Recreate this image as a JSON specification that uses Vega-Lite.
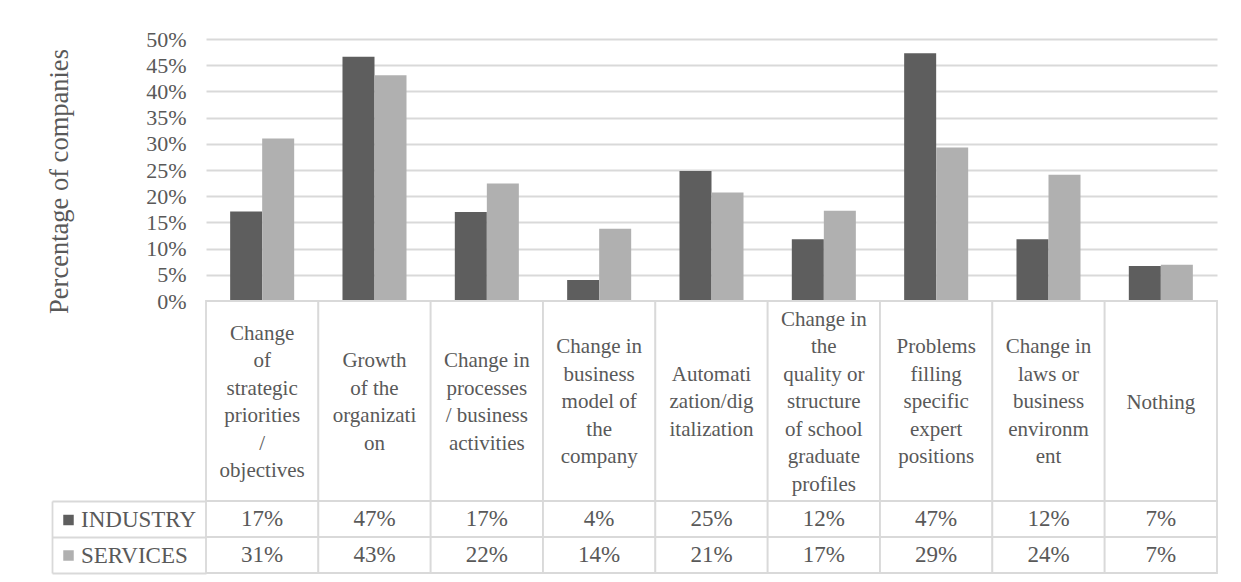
{
  "$schema": "https://vega.github.io/schema/vega-lite/v6.json",
  "padding": {"left": 46, "top": 28, "right": 23, "bottom": 9},
  "autosize": {"type": "pad"},
  "bounds": "flush",
  "spacing": 0,
  "background": "white",
  "config": {
    "font": "Liberation Serif",
    "view": {"stroke": null},
    "axis": {"labelColor": "#595959", "titleColor": "#595959", "titleFontWeight": "normal"},
    "legend": {"labelColor": "#595959"}
  },
  "datasets": {
    "rows": [
      {"idx": 1, "category": "Change\nof\nstrategic\npriorities\n/\nobjectives", "series": "INDUSTRY", "value": 0.171},
      {"idx": 1, "category": "Change\nof\nstrategic\npriorities\n/\nobjectives", "series": "SERVICES", "value": 0.310},
      {"idx": 2, "category": "Growth\nof the\norganizati\non", "series": "INDUSTRY", "value": 0.466},
      {"idx": 2, "category": "Growth\nof the\norganizati\non", "series": "SERVICES", "value": 0.431},
      {"idx": 3, "category": "Change in\nprocesses\n/ business\nactivities", "series": "INDUSTRY", "value": 0.170},
      {"idx": 3, "category": "Change in\nprocesses\n/ business\nactivities", "series": "SERVICES", "value": 0.224},
      {"idx": 4, "category": "Change in\nbusiness\nmodel of\nthe\ncompany", "series": "INDUSTRY", "value": 0.040},
      {"idx": 4, "category": "Change in\nbusiness\nmodel of\nthe\ncompany", "series": "SERVICES", "value": 0.138},
      {"idx": 5, "category": "Automati\nzation/dig\nitalization", "series": "INDUSTRY", "value": 0.248},
      {"idx": 5, "category": "Automati\nzation/dig\nitalization", "series": "SERVICES", "value": 0.207},
      {"idx": 6, "category": "Change in\nthe\nquality or\nstructure\nof school\ngraduate\nprofiles", "series": "INDUSTRY", "value": 0.118},
      {"idx": 6, "category": "Change in\nthe\nquality or\nstructure\nof school\ngraduate\nprofiles", "series": "SERVICES", "value": 0.172},
      {"idx": 7, "category": "Problems\nfilling\nspecific\nexpert\npositions", "series": "INDUSTRY", "value": 0.473},
      {"idx": 7, "category": "Problems\nfilling\nspecific\nexpert\npositions", "series": "SERVICES", "value": 0.293},
      {"idx": 8, "category": "Change in\nlaws or\nbusiness\nenvironm\nent", "series": "INDUSTRY", "value": 0.118},
      {"idx": 8, "category": "Change in\nlaws or\nbusiness\nenvironm\nent", "series": "SERVICES", "value": 0.241},
      {"idx": 9, "category": "Nothing", "series": "INDUSTRY", "value": 0.067},
      {"idx": 9, "category": "Nothing", "series": "SERVICES", "value": 0.069}
    ]
  },
  "vconcat": [
    {
      "width": 1011,
      "height": 262,
      "data": {"name": "rows"},
      "mark": {"type": "bar"},
      "encoding": {
        "x": {"field": "category", "type": "nominal", "sort": {"field": "idx", "op": "min"},
              "scale": {"paddingInner": 0.43, "paddingOuter": 0.215}, "axis": null},
        "xOffset": {"field": "series", "type": "nominal", "sort": ["INDUSTRY", "SERVICES"]},
        "y": {"field": "value", "type": "quantitative",
              "scale": {"domain": [0, 0.5], "nice": false},
              "axis": {"format": ".0%", "values": [0, 0.05, 0.1, 0.15, 0.2, 0.25, 0.3, 0.35, 0.4, 0.45, 0.5],
                       "grid": true, "gridColor": "#d9d9d9", "gridWidth": 1.8,
                       "domain": false, "ticks": false, "labelPadding": 20, "labelFontSize": 22,
                       "title": "Percentage of companies", "titleFontSize": 26.5, "titlePadding": 72, "titleY": 142}},
        "color": {"field": "series", "type": "nominal",
                  "scale": {"domain": ["INDUSTRY", "SERVICES"], "range": ["#5e5e5e", "#b0b0b0"]},
                  "legend": {"orient": "none", "legendX": -149, "legendY": 469.5, "title": null,
                             "symbolType": "square", "symbolSize": 110, "symbolStrokeWidth": 0,
                             "labelFontSize": 23, "labelOffset": 1, "rowPadding": 11.5, "padding": 0}}
      }
    },
    {
      "width": 1011,
      "height": 200,
      "data": {"name": "rows"},
      "transform": [
        {"filter": "datum.series == 'INDUSTRY'"},
        {"calculate": "(length(split(datum.category, '\\n')) - 1) / 2", "as": "shift"}
      ],
      "encoding": {
        "x": {"field": "category", "type": "nominal", "sort": {"field": "idx", "op": "min"},
              "scale": {"paddingInner": 0, "paddingOuter": 0}, "axis": null}
      },
      "layer": [
        {"mark": {"type": "rect", "fill": "white", "stroke": "#d9d9d9", "strokeWidth": 1.8}},
        {"mark": {"type": "text", "lineBreak": "\n", "lineHeight": 27.5, "fontSize": 21, "color": "#595959", "dy": 1.5},
         "encoding": {
           "y": {"field": "shift", "type": "quantitative",
                 "scale": {"domain": [-3.63636, 3.63636], "nice": false, "zero": false}, "axis": null},
           "text": {"field": "category"}}}
      ]
    },
    {
      "width": 1011,
      "height": 72,
      "data": {"name": "rows"},
      "encoding": {
        "x": {"field": "category", "type": "nominal", "sort": {"field": "idx", "op": "min"},
              "scale": {"paddingInner": 0, "paddingOuter": 0}, "axis": null},
        "y": {"field": "series", "type": "nominal", "sort": ["INDUSTRY", "SERVICES"],
              "scale": {"paddingInner": 0, "paddingOuter": 0},
              "axis": {"title": null, "labels": false, "offset": 154, "tickSize": -154, "tickBand": "extent",
                       "tickColor": "#d9d9d9", "tickWidth": 1.8, "domainColor": "#d9d9d9", "domainWidth": 1.8}}
      },
      "layer": [
        {"mark": {"type": "rect", "fill": "white", "stroke": "#d9d9d9", "strokeWidth": 1.8}},
        {"mark": {"type": "text", "fontSize": 23, "color": "#595959"},
         "encoding": {"text": {"field": "value", "type": "quantitative", "format": ".0%"}}}
      ]
    }
  ]
}
